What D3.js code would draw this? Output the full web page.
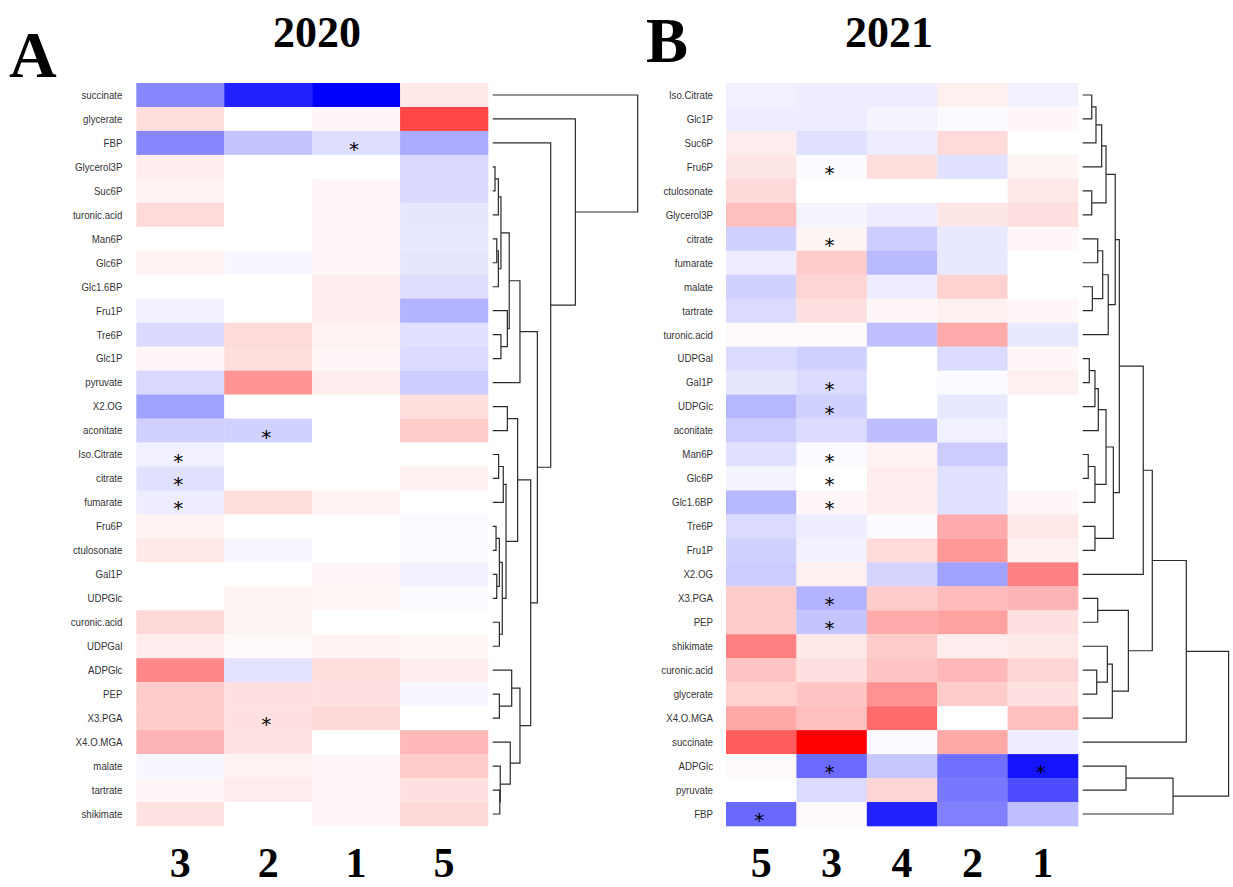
<!DOCTYPE html>
<html><head><meta charset="utf-8">
<script src="https://cdn.jsdelivr.net/npm/d3@7"></script>
<style>body{margin:0;background:#fff} svg{display:block}</style>
</head><body>
<svg id="chart" width="1233" height="887"></svg>
<script>
// ---------- 2020 (panel A) ----------
const rows2020 = ["succinate","glycerate","FBP","Glycerol3P","Suc6P","turonic.acid","Man6P","Glc6P","Glc1.6BP","Fru1P","Tre6P","Glc1P","pyruvate","X2.OG","aconitate","Iso.Citrate","citrate","fumarate","Fru6P","ctulosonate","Gal1P","UDPGlc","curonic.acid","UDPGal","ADPGlc","PEP","X3.PGA","X4.O.MGA","malate","tartrate","shikimate"];
const cols2020 = ["3","2","1","5"];
const values2020 = [
  [-0.47,-0.87,-1.0,0.09],
  [0.13,0,0.03,0.73],
  [-0.47,-0.23,-0.13,-0.33],
  [0.07,0,0,-0.15],
  [0.05,0,0.03,-0.145],
  [0.145,0,0.03,-0.1],
  [0,0,0.03,-0.09],
  [0.05,-0.03,0.03,-0.1],
  [0,0,0.07,-0.13],
  [-0.05,0,0.075,-0.3],
  [-0.145,0.145,0.05,-0.12],
  [0.03,0.13,0.03,-0.14],
  [-0.15,0.42,0.075,-0.2],
  [-0.37,0,0,0.13],
  [-0.18,-0.18,0,0.2],
  [-0.06,0,0,0],
  [-0.12,0,0,0.06],
  [-0.07,0.13,0.05,0],
  [0.05,0,0,-0.02],
  [0.09,-0.03,0,-0.02],
  [0,0,0.03,-0.06],
  [0,0.045,0.035,-0.02],
  [0.15,0.045,0,0],
  [0.07,0.02,0.05,0.035],
  [0.47,-0.11,0.13,0.075],
  [0.2,0.12,0.12,-0.03],
  [0.2,0.12,0.15,0],
  [0.29,0.11,0,0.28],
  [-0.03,0.05,0.03,0.2],
  [0.03,0.07,0.03,0.12],
  [0.11,0,0.03,0.15]
];
const stars2020 = [["FBP","1"],["aconitate","2"],["Iso.Citrate","3"],["citrate","3"],["fumarate","3"],["X3.PGA","2"]];
// dendrogram: [childA, childB, mergeHeight]
const clusterB2020 = [[[[["Glycerol3P","Suc6P",0.016],"turonic.acid",0.039],[["Man6P","Glc6P",0.028],"Glc1.6BP",0.039],0.057],["Fru1P",["Tre6P","Glc1P",0.057],0.101],0.114],"pyruvate",0.188];
const clusterC1_2020 = [["X2.OG","aconitate",0.101],[[["Iso.Citrate","citrate",0.041],"fumarate",0.073],[[["Fru6P","ctulosonate",0.023],["Gal1P","UDPGlc",0.028],0.046],["curonic.acid","UDPGal",0.046],0.066],0.092],0.172];
const clusterC2_2020 = [["ADPGlc",["PEP","X3.PGA",0.046],0.131],["X4.O.MGA",["malate",["tartrate","shikimate",0.049],0.052],0.121],0.188];
const tree2020 = ["succinate",["glycerate",["FBP",[clusterB2020,[clusterC1_2020,clusterC2_2020,0.262],0.308],0.400],0.570],1.0];

// ---------- 2021 (panel B) ----------
const rows2021 = ["Iso.Citrate","Glc1P","Suc6P","Fru6P","ctulosonate","Glycerol3P","citrate","fumarate","malate","tartrate","turonic.acid","UDPGal","Gal1P","UDPGlc","aconitate","Man6P","Glc6P","Glc1.6BP","Tre6P","Fru1P","X2.OG","X3.PGA","PEP","shikimate","curonic.acid","glycerate","X4.O.MGA","succinate","ADPGlc","pyruvate","FBP"];
const cols2021 = ["5","3","4","2","1"];
const values2021 = [
  [-0.06,-0.07,-0.07,0.06,-0.06],
  [-0.07,-0.07,-0.045,-0.02,0.03],
  [0.07,-0.12,-0.07,0.145,0],
  [0.1,-0.02,0.13,-0.12,0.045],
  [0.15,0,0,0,0.09],
  [0.25,-0.045,-0.07,0.1,0.12],
  [-0.18,0.045,-0.2,-0.09,0.03],
  [-0.07,0.2,-0.27,-0.09,0],
  [-0.18,0.17,-0.07,0.18,0],
  [-0.14,0.12,0.03,0.06,0.03],
  [0.02,0.02,-0.25,0.33,-0.09],
  [-0.14,-0.18,0,-0.14,0.03],
  [-0.1,-0.14,0,-0.02,0.06],
  [-0.28,-0.18,0,-0.09,0],
  [-0.2,-0.14,-0.26,-0.06,0],
  [-0.12,-0.02,0.05,-0.2,0],
  [-0.045,0,0.07,-0.12,0],
  [-0.28,0.03,0.07,-0.12,0.03],
  [-0.14,-0.07,-0.02,0.33,0.09],
  [-0.18,-0.05,0.145,0.4,0.06],
  [-0.2,0.06,-0.17,-0.37,0.5],
  [0.2,-0.3,0.2,0.27,0.29],
  [0.2,-0.23,0.33,0.37,0.12],
  [0.5,0.09,0.2,0.07,0.09],
  [0.23,0.12,0.23,0.28,0.17],
  [0.18,0.23,0.43,0.2,0.12],
  [0.34,0.25,0.58,0,0.25],
  [0.64,1.0,-0.02,0.34,-0.07],
  [0.02,-0.58,-0.22,-0.56,-0.92],
  [0,-0.14,0.17,-0.53,-0.7],
  [-0.59,0.02,-0.87,-0.5,-0.25]
];
const stars2021 = [["Fru6P","3"],["citrate","3"],["Gal1P","3"],["UDPGlc","3"],["Man6P","3"],["Glc6P","3"],["Glc1.6BP","3"],["X3.PGA","3"],["PEP","3"],["ADPGlc","3"],["ADPGlc","1"],["FBP","5"]];
const topA2021 = [[[["Iso.Citrate","Glc1P",0.062],"Suc6P",0.091],"Fru6P",0.130],["ctulosonate","Glycerol3P",0.062],0.160];
const topB2021 = [[["citrate","fumarate",0.103],["malate","tartrate",0.066],0.137],"turonic.acid",0.175];
const midA2021 = [[[["UDPGal","Gal1P",0.045],"UDPGlc",0.084],"aconitate",0.107],[["Man6P","Glc6P",0.038],"Glc1.6BP",0.084],0.160];
const upper2021 = [[[topA2021,topB2021,0.223],[midA2021,["Tre6P","Fru1P",0.084],0.210],0.251],"X2.OG",0.415];
const lowerA2021 = [["X3.PGA","PEP",0.103],[["shikimate",["curonic.acid","glycerate",0.096],0.169],"X4.O.MGA",0.203],0.313];
const tree2021 = [[[upper2021,lowerA2021,0.477],"succinate",0.710],[["ADPGlc","pyruvate",0.297],"FBP",0.619],1.0];

// ---------- drawing ----------
const svg = d3.select("#chart");
svg.append("rect").attr("width",1233).attr("height",887).attr("fill","#fff");
const color = d3.scaleLinear().domain([-1,0,1]).range(["#0000ff","#ffffff","#ff0000"]);

function panel(cfg){
  const {rows, cols, values, stars, tree, xr, yr, labelX, clipX, treeR, title, titleX, letter, letterX, letterY, letterSize, id} = cfg;
  const x = d3.scaleBand().domain(cols).range(xr);
  const y = d3.scaleBand().domain(rows).range(yr);
  const g = svg.append("g");
  rows.forEach((r,i)=>{
    cols.forEach((c,j)=>{
      g.append("rect").attr("x",x(c)).attr("y",y(r)).attr("width",x.bandwidth()+0.3).attr("height",y.bandwidth()+0.3)
        .attr("fill",color(values[i][j]));
    });
  });
  // stars
  stars.forEach(([r,c])=>{
    g.append("text").attr("x",x(c)+x.bandwidth()/2-2).attr("y",y(r)+y.bandwidth()/2+13)
      .attr("text-anchor","middle").attr("font-family","DejaVu Sans, sans-serif")
      .attr("font-size",20).attr("fill","#000").text("*");
  });
  // labels with clip
  svg.append("clipPath").attr("id","clip"+id).append("rect")
    .attr("x",clipX).attr("y",yr[0]-5).attr("width",labelX-clipX+10).attr("height",yr[1]-yr[0]+10);
  const lg = svg.append("g").attr("clip-path","url(#clip"+id+")");
  rows.forEach(r=>{
    lg.append("text").attr("transform",`translate(${labelX},${y(r)+y.bandwidth()/2}) scale(0.88,1)`)
      .attr("text-anchor","end").attr("dy","0.35em")
      .attr("font-family","Liberation Sans, Arial, sans-serif").attr("font-size",11)
      .attr("fill","#333").text(r);
  });
  // dendrogram
  const hx = d3.scaleLinear().domain([0,1]).range(treeR);
  const dg = svg.append("g").attr("fill","none").attr("stroke","#2a2a2a").attr("stroke-width",1.2);
  function draw(node){
    if(typeof node === "string") return {x:hx(0), y:y(node)+y.bandwidth()/2};
    const a = draw(node[0]), b = draw(node[1]);
    const nx = hx(node[2]);
    dg.append("path").attr("d",`M${a.x},${a.y}H${nx}V${b.y}H${b.x}`);
    return {x:nx, y:(a.y+b.y)/2};
  }
  draw(tree);
  // column labels
  cols.forEach(c=>{
    svg.append("text").attr("x",x(c)+x.bandwidth()/2).attr("y",877).attr("text-anchor","middle")
      .attr("font-family","Liberation Serif, Times New Roman, serif").attr("font-weight","bold")
      .attr("font-size",42).attr("fill","#000").text(c);
  });
  // title
  svg.append("text").attr("x",titleX).attr("y",47).attr("text-anchor","middle")
    .attr("font-family","Liberation Serif, Times New Roman, serif").attr("font-weight","bold")
    .attr("font-size",44).attr("fill","#000").text(title);
  svg.append("text").attr("x",letterX).attr("y",letterY)
    .attr("font-family","Liberation Serif, Times New Roman, serif").attr("font-weight","bold")
    .attr("font-size",letterSize).attr("fill","#000").text(letter);
}

panel({rows:rows2020, cols:cols2020, values:values2020, stars:stars2020, tree:tree2020,
  xr:[136.3,488], yr:[83,826], labelX:122.4, clipX:71, treeR:[492.7,637.7],
  title:"2020", titleX:317, letter:"A", letterX:9, letterY:77, letterSize:66, id:"a"});
panel({rows:rows2021, cols:cols2021, values:values2021, stars:stars2021, tree:tree2021,
  xr:[726,1078], yr:[83,826], labelX:713, clipX:661, treeR:[1082.7,1228.6],
  title:"2021", titleX:889, letter:"B", letterX:646, letterY:62, letterSize:63, id:"b"});
</script>
</body></html>
